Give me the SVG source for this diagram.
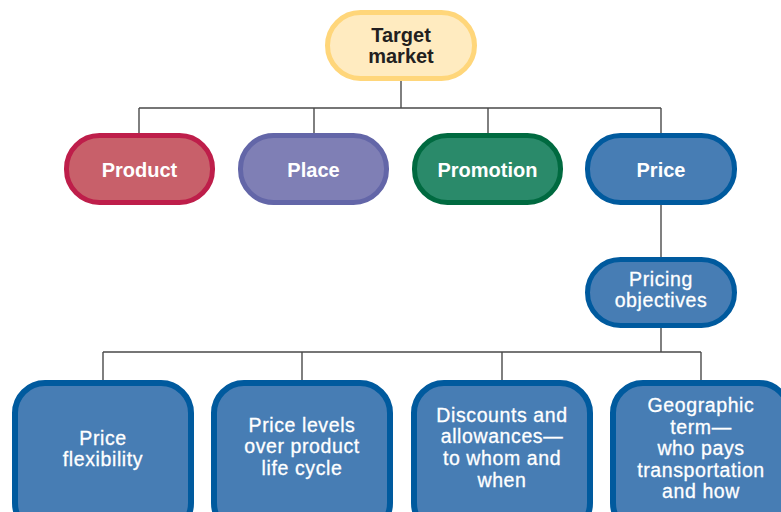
<svg xmlns="http://www.w3.org/2000/svg" width="781" height="512" viewBox="0 0 781 512">
<style>
.conn{fill:none;stroke:#4a4a4a;stroke-width:1.4}
.pill{stroke-width:5}
.box{fill:#477db4;stroke:#005a9e;stroke-width:6}
.tb{font-family:"Liberation Sans",Arial,sans-serif;font-weight:bold;font-size:20px;text-anchor:middle;fill:#fff}
.tn{font-family:"Liberation Sans",Arial,sans-serif;font-size:19.5px;text-anchor:middle;fill:#fff;stroke:#fff;stroke-width:0.3;letter-spacing:0.6px}
</style>
<rect width="781" height="512" fill="#fff"/>
<g id="connectors">
<path class="conn" d="M401 81V108M139 108H661M139 108V133M314 108V133M488 108V133M661 108V133"/>
<path class="conn" d="M661 205V257"/>
<path class="conn" d="M661 328V352M103 352H701M103 352V380M302 352V380M502 352V380M701 352V380"/>
</g>
<g id="target">
<rect class="pill" x="327.5" y="12.5" width="147" height="66" rx="33" fill="#ffebc0" stroke="#ffd67a"/>
<text class="tb" style="fill:#231f20" x="401" y="42">Target</text>
<text class="tb" style="fill:#231f20" x="401" y="63">market</text>
</g>
<g id="product">
<rect class="pill" x="66.5" y="135.5" width="146" height="67" rx="33" fill="#c8606a" stroke="#be1e4a"/>
<text class="tb" x="139.5" y="177">Product</text>
</g>
<g id="place">
<rect class="pill" x="240.5" y="135.5" width="146" height="67" rx="33" fill="#7f7fb5" stroke="#6366a8"/>
<text class="tb" x="313.5" y="177">Place</text>
</g>
<g id="promotion">
<rect class="pill" x="414.5" y="135.5" width="146" height="67" rx="33" fill="#2a8a6a" stroke="#006a40"/>
<text class="tb" x="487.5" y="177">Promotion</text>
</g>
<g id="price">
<rect class="pill" x="587.5" y="135.5" width="147" height="67" rx="33" fill="#477db4" stroke="#005a9e"/>
<text class="tb" x="661" y="177">Price</text>
</g>
<g id="pricing-objectives">
<rect class="pill" x="587.5" y="259.5" width="147" height="66" rx="33" fill="#477db4" stroke="#005a9e"/>
<text class="tn" x="661" y="286">Pricing</text>
<text class="tn" x="661" y="307">objectives</text>
</g>
<g id="price-flexibility">
<rect class="box" x="15" y="383" width="176" height="150" rx="30"/>
<text class="tn" x="103" y="445">Price</text>
<text class="tn" x="103" y="466">flexibility</text>
</g>
<g id="price-levels">
<rect class="box" x="214" y="383" width="176" height="150" rx="30"/>
<text class="tn" x="302" y="432">Price levels</text>
<text class="tn" x="302" y="453">over product</text>
<text class="tn" x="302" y="475">life cycle</text>
</g>
<g id="discounts">
<rect class="box" x="414" y="383" width="176" height="150" rx="30"/>
<text class="tn" x="502" y="422">Discounts and</text>
<text class="tn" x="502" y="443">allowances—</text>
<text class="tn" x="502" y="465">to whom and</text>
<text class="tn" x="502" y="487">when</text>
</g>
<g id="geographic">
<rect class="box" x="613" y="383" width="176" height="150" rx="30"/>
<text class="tn" x="701" y="412">Geographic</text>
<text class="tn" x="701" y="434">term—</text>
<text class="tn" x="701" y="455">who pays</text>
<text class="tn" x="701" y="477">transportation</text>
<text class="tn" x="701" y="498">and how</text>
</g>
</svg>
